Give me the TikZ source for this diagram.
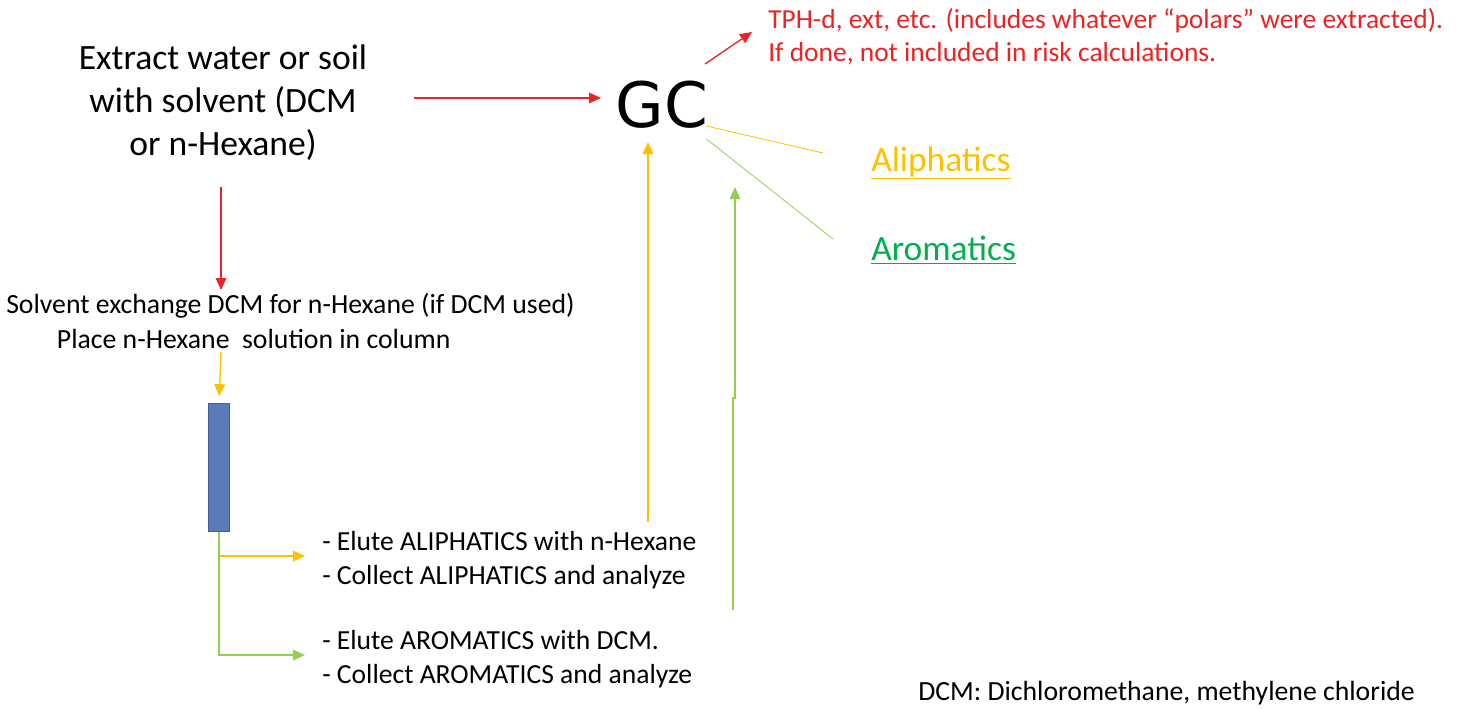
\documentclass[tikz,border=0pt]{standalone}
\usepackage{fontspec}
\setmainfont{Carlito}
\newfontfamily\gcfont{DejaVu Sans}
\usepackage{xcolor}
\usepackage{tikz}
\usetikzlibrary{arrows.meta, positioning, calc}
\definecolor{flowred}{RGB}{237,34,36}
\definecolor{aliyellow}{RGB}{255,192,0}
\definecolor{arogreen}{RGB}{0,176,80}
\definecolor{linegreen}{RGB}{146,208,80}
\definecolor{colfill}{RGB}{91,123,184}
\definecolor{coledge}{RGB}{62,95,151}
\tikzset{
  txt/.style={inner sep=0pt, anchor=west, align=left},
  link/.style={-{Triangle[length=9pt, width=8pt]}, line width=1pt},
  lead/.style={line width=0.6pt}
}
\newcommand{\sz}[2]{\fontsize{#1}{#2}\selectfont}

\begin{document}
\begin{tikzpicture}[x=0.75pt, y=-0.75pt]
        \useasboundingbox (0,0) rectangle (1461,708);

        % Texts
        \node[inner sep=0pt, align=center, font=\sz{26.7}{32.3}] (extract) at (223,103)
             {Extract water or soil\\with solvent (DCM\\or n-Hexane)};
        \node[inner sep=0pt, font=\gcfont\sz{47}{56}] (gc) at (662,105) {GC};
        \node[txt, text=flowred, font=\sz{20.6}{25}] (tph) at (768,37)
             {TPH-d, ext, etc. (includes whatever ``polars'' were extracted).\\If done, not included in risk calculations.};
        \node[txt, text=aliyellow, font=\sz{26.6}{30}] (ali) at (871,163) {\underline{Aliphatics}};
        \node[txt, text=arogreen, font=\sz{26.6}{30}] (aro) at (871,250) {\underline{Aromatics}};
        \node[txt, font=\sz{20.8}{26}] (solv) at (6,321)
             {Solvent exchange DCM for n-Hexane (if DCM used)\\\hspace*{38pt}Place n-Hexane~ solution in column};
        \node[txt, font=\sz{20.7}{25.5}] (elali) at (322,560)
             {- Elute ALIPHATICS with n-Hexane\\- Collect ALIPHATICS and analyze};
        \node[txt, font=\sz{20.7}{25.5}] (elaro) at (322,659)
             {- Elute AROMATICS with DCM.\\- Collect AROMATICS and analyze};
        \node[txt, font=\sz{20.8}{24}] (note) at (918,693) {DCM: Dichloromethane, methylene chloride};

        % Column
        \node[draw=coledge, fill=colfill, line width=1pt, minimum width=16pt, minimum height=96pt,
              inner sep=0pt] (col) at (219,467.5) {};

        % Connector ends
        \coordinate (ext-out)  at (414,98);
        \coordinate (gc-in)    at (601,98);
        \coordinate (ext-down) at (221,187);
        \coordinate (solv-in)  at (221,290);
        \coordinate (solv-out) at (221,352);
        \coordinate (gc-up)    at (705,64);
        \coordinate (tph-in)   at (752,32);
        \coordinate (ali-tip)  at (305,556);
        \coordinate (aro-tip)  at (305,655);
        \coordinate (ali-up)   at (648,522);
        \coordinate (gc-ali)   at (648,142);
        \coordinate (aro-up)   at (733,610);
        \coordinate (gc-aro)   at (735,187);
        \coordinate (ali-end)  at (823,153);
        \coordinate (aro-end)  at (833,239);

        % Links
        \draw[link, flowred] (ext-out) -- (gc-in);
        \draw[link, flowred] (ext-down) -- (solv-in);
        \draw[link, flowred] (gc-up) -- (tph-in);
        \draw[link, aliyellow, shorten >=5pt] (solv-out) -- (col.north);
        \draw[link, aliyellow] (col.south) |- (ali-tip);
        \draw[link, linegreen] (col.south) |- (aro-tip);
        \draw[link, aliyellow] (ali-up) -- (gc-ali);
        \draw[link, linegreen] (aro-up) -- (733,398) -- (735,398) -- (gc-aro);
        \draw[lead, aliyellow] (gc.south east) ++(-2,-3) -- (ali-end);
        \draw[lead, linegreen] (gc.south east) ++(-2,10) -- (aro-end);
    \end{tikzpicture}
\end{document}
